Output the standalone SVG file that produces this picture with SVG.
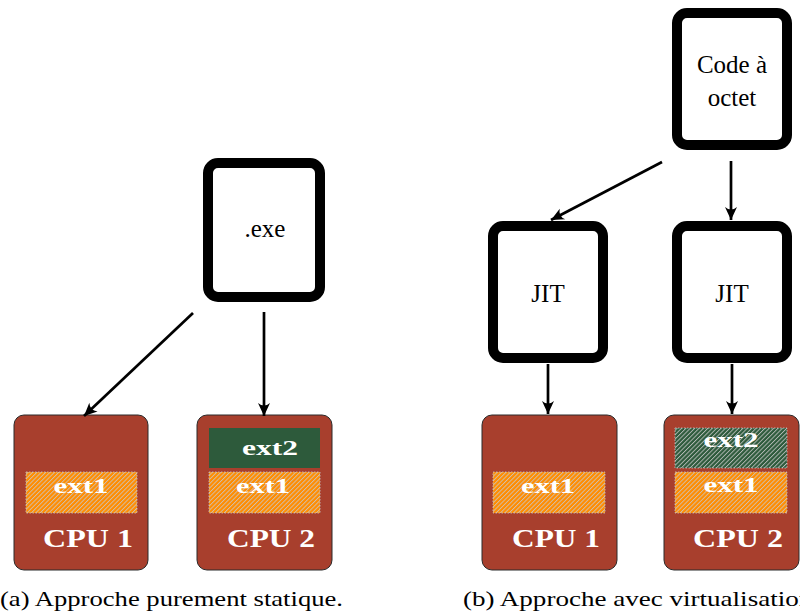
<svg xmlns="http://www.w3.org/2000/svg" width="800" height="614" viewBox="0 0 800 614">
<style>
.node rect.box{fill:#fff;stroke:#000;stroke-width:10}
.lbl{font-family:"Liberation Serif","DejaVu Serif",serif;font-size:25px;fill:#000;text-anchor:middle}
.cpu{fill:#A83F2D;stroke:#2a2a2a;stroke-width:1}
.wt{font-family:"Liberation Serif","DejaVu Serif",serif;font-weight:bold;fill:#fff;text-anchor:middle}
.cpt{font-size:25px}
.ext{font-size:22px}
.orange{fill:#FF8C00}
.green{fill:#2D5A3B}
.hatch{fill:url(#hatch);stroke:#c8c8c8;stroke-width:0.8;stroke-dasharray:1.5 1.5}
.conn line{stroke:#000;stroke-width:2.7;marker-end:url(#arr)}
.cap{font-family:"Liberation Serif","DejaVu Serif",serif;font-size:21px;fill:#000}
</style>
<defs>
<pattern id="hatch" patternUnits="userSpaceOnUse" width="3.1" height="3.1" patternTransform="rotate(45)">
<line x1="0.5" y1="0" x2="0.5" y2="3.1" stroke="#c8c8c8" stroke-width="0.8"/>
</pattern>
<marker id="arr" markerUnits="userSpaceOnUse" viewBox="-14 -7 15 14" refX="0" refY="0" markerWidth="15" markerHeight="14" orient="auto">
<path d="M0,0 L-13,-6 Q-8,0 -13,6 Z" fill="#000"/>
</marker>
</defs>

<g id="exe" class="node">
<rect class="box" x="208" y="163" width="112" height="134" rx="10"/>
<text class="lbl" x="265" y="237">.exe</text>
</g>

<g id="code" class="node">
<rect class="box" x="677" y="13" width="110" height="132" rx="10"/>
<text class="lbl" x="732" y="73">Code à</text>
<text class="lbl" x="732" y="106">octet</text>
</g>

<g id="jit1" class="node">
<rect class="box" x="493" y="226" width="110" height="132" rx="10"/>
<text class="lbl" x="548" y="302">JIT</text>
</g>

<g id="jit2" class="node">
<rect class="box" x="677" y="226" width="110" height="132" rx="10"/>
<text class="lbl" x="732" y="302">JIT</text>
</g>

<g id="cpuA1">
<rect class="cpu" x="14" y="415" width="134" height="155" rx="10"/>
<rect class="orange" x="26" y="472" width="111" height="41"/>
<rect class="hatch" x="26" y="472" width="111" height="41"/>
<text class="wt ext" x="81" y="493" textLength="55" lengthAdjust="spacingAndGlyphs">ext1</text>
<text class="wt cpt" x="88" y="547" textLength="90" lengthAdjust="spacingAndGlyphs">CPU 1</text>
</g>

<g id="cpuA2">
<rect class="cpu" x="197" y="415" width="135" height="155" rx="10"/>
<rect class="green" x="209" y="428" width="111" height="40"/>
<text class="wt ext" x="270" y="455" textLength="56" lengthAdjust="spacingAndGlyphs">ext2</text>
<rect class="orange" x="209" y="472" width="111" height="41"/>
<rect class="hatch" x="209" y="472" width="111" height="41"/>
<text class="wt ext" x="263" y="493" textLength="54" lengthAdjust="spacingAndGlyphs">ext1</text>
<text class="wt cpt" x="271" y="547" textLength="88" lengthAdjust="spacingAndGlyphs">CPU 2</text>
</g>

<g id="cpuB1">
<rect class="cpu" x="482" y="415" width="135" height="155" rx="10"/>
<rect class="orange" x="493" y="472" width="112" height="41"/>
<rect class="hatch" x="493" y="472" width="112" height="41"/>
<text class="wt ext" x="548" y="493" textLength="54" lengthAdjust="spacingAndGlyphs">ext1</text>
<text class="wt cpt" x="556" y="547" textLength="88" lengthAdjust="spacingAndGlyphs">CPU 1</text>
</g>

<g id="cpuB2">
<rect class="cpu" x="664" y="415" width="135" height="155" rx="10"/>
<rect class="green" x="675" y="428" width="112" height="40"/>
<rect class="hatch" x="675" y="428" width="112" height="40"/>
<text class="wt ext" x="731" y="447" textLength="55" lengthAdjust="spacingAndGlyphs">ext2</text>
<rect class="orange" x="675" y="472" width="112" height="41"/>
<rect class="hatch" x="675" y="472" width="112" height="41"/>
<text class="wt ext" x="731" y="492" textLength="55" lengthAdjust="spacingAndGlyphs">ext1</text>
<text class="wt cpt" x="738" y="547" textLength="90" lengthAdjust="spacingAndGlyphs">CPU 2</text>
</g>

<g id="connectors" class="conn">
<line x1="193" y1="313" x2="84" y2="416"/>
<line x1="264" y1="312" x2="264" y2="416"/>
<line x1="662" y1="162" x2="551" y2="220"/>
<line x1="731" y1="161" x2="731" y2="220"/>
<line x1="548" y1="364" x2="548" y2="414"/>
<line x1="732" y1="364" x2="732" y2="414"/>
</g>

<text class="cap" x="0" y="606" textLength="343" lengthAdjust="spacingAndGlyphs">(a) Approche purement statique.</text>
<text class="cap" x="463" y="606" textLength="356" lengthAdjust="spacingAndGlyphs">(b) Approche avec virtualisation.</text>
</svg>
